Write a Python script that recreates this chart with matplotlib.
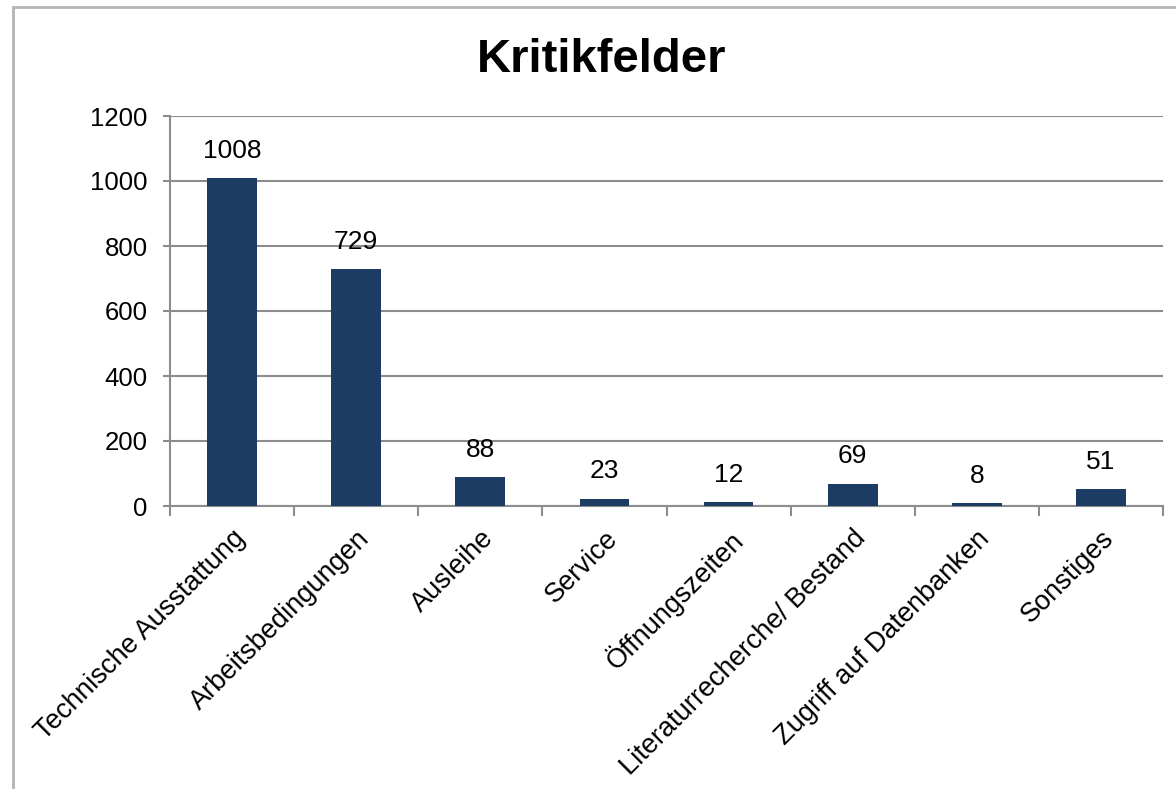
import numpy as np
import matplotlib.pyplot as plt
from matplotlib.patches import Rectangle

plt.rcParams["font.family"] = ["Liberation Sans", "DejaVu Sans"]

# --- data ---
categories = [
    "Technische Ausstattung",
    "Arbeitsbedingungen",
    "Ausleihe",
    "Service",
    "Öffnungszeiten",
    "Literaturrecherche/ Bestand",
    "Zugriff auf Datenbanken",
    "Sonstiges",
]
counts = [1008, 729, 88, 23, 12, 69, 8, 51]
yticks = [0, 200, 400, 600, 800, 1000, 1200]

BAR_COLOR = "#1d3c64"
GRID_COLOR = "#8c8c8c"

fig = plt.figure(figsize=(11.76, 7.89), dpi=100)
ax = fig.add_axes([170 / 1176, 1 - 506 / 789, (1163 - 170) / 1176, (506 - 116) / 789])

x = np.arange(len(categories))
bars = ax.bar(x, counts, width=0.4, color=BAR_COLOR, zorder=3)

for xi, v in zip(x, counts):
    ax.annotate(str(v), (xi, v), xytext=(0, 11), textcoords="offset points",
                ha="center", va="bottom", fontsize=19, color="black")

ax.set_xlim(-0.5, len(categories) - 0.5)
ax.set_ylim(0, 1200)
ax.set_yticks(yticks)
ax.yaxis.grid(True, color=GRID_COLOR, linewidth=1.5, zorder=0)
ax.set_axisbelow(True)

# category labels at centres, tick marks at boundaries
ax.set_xticks(x)
ax.set_xticklabels(categories, rotation=45, ha="right", rotation_mode="anchor", fontsize=19.5)
ax.set_xticks(np.arange(len(categories) + 1) - 0.5, minor=True)
ax.tick_params(axis="x", which="major", length=0, pad=14)
ax.tick_params(axis="x", which="minor", length=7, width=1.5, color=GRID_COLOR, direction="out")
ax.tick_params(axis="y", length=5, width=1.5, color=GRID_COLOR, pad=11, labelsize=18.5)

for side in ["top", "right"]:
    ax.spines[side].set_visible(False)
for side in ["left", "bottom"]:
    ax.spines[side].set_color(GRID_COLOR)
    ax.spines[side].set_linewidth(1.5)

fig.text(602 / 1176, 1 - 72 / 789, "Kritikfelder", ha="center", va="baseline",
         fontsize=34, fontweight="bold")

# outer chart border (cropped at right and bottom)
fig.patches.append(Rectangle((12.5 / 1176, -0.1), 1.2, 1.1 - 7.5 / 789,
                             transform=fig.transFigure, fill=False,
                             edgecolor="#b4b4b4", linewidth=2))

fig.savefig("out.png", dpi=100)
